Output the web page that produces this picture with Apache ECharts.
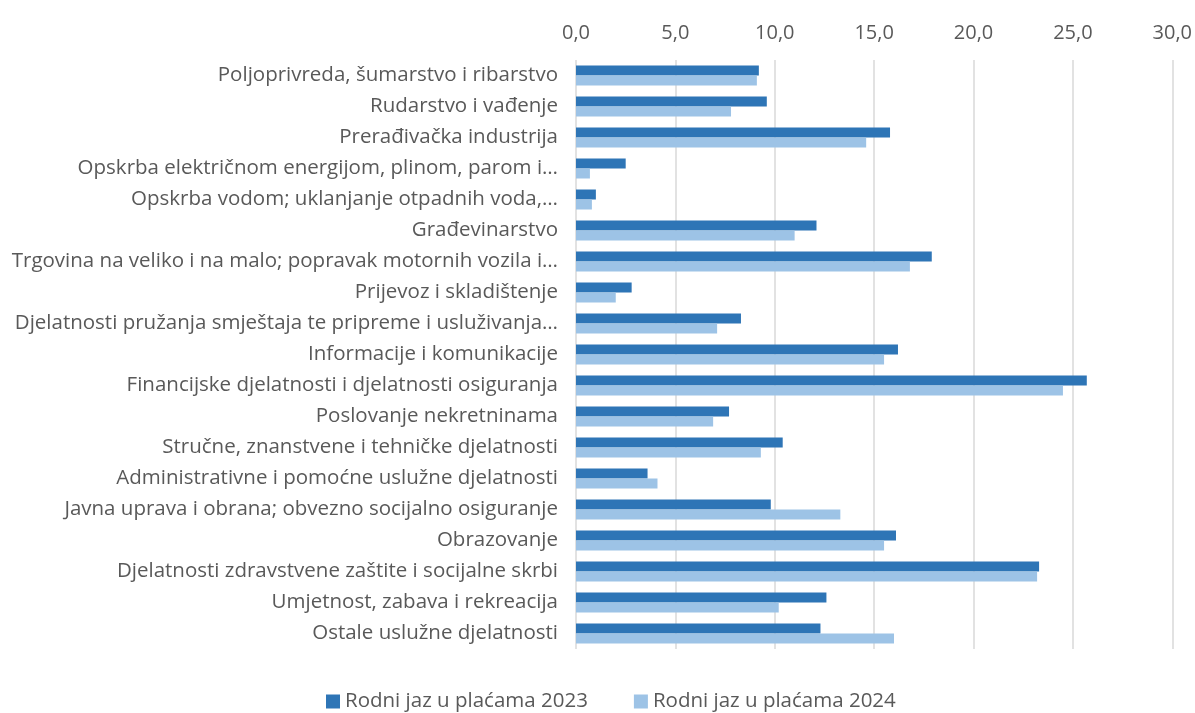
<!DOCTYPE html>
<html>
<head>
<meta charset="utf-8">
<script src="https://cdn.jsdelivr.net/npm/echarts@6/dist/echarts.min.js"></script>
<style>
    html, body { margin: 0; padding: 0; background: #fff; }
    #chart { width: 1195px; height: 713px; }
</style>
</head>
<body>
<div id="chart"></div>
<script>
    // kategorije (djelatnosti)
    var categories = [
        'Poljoprivreda, šumarstvo i ribarstvo',
        'Rudarstvo i vađenje',
        'Prerađivačka industrija',
        'Opskrba električnom energijom, plinom, parom i…',
        'Opskrba vodom; uklanjanje otpadnih voda,…',
        'Građevinarstvo',
        'Trgovina na veliko i na malo; popravak motornih vozila i…',
        'Prijevoz i skladištenje',
        'Djelatnosti pružanja smještaja te pripreme i usluživanja…',
        'Informacije i komunikacije',
        'Financijske djelatnosti i djelatnosti osiguranja',
        'Poslovanje nekretninama',
        'Stručne, znanstvene i tehničke djelatnosti',
        'Administrativne i pomoćne uslužne djelatnosti',
        'Javna uprava i obrana; obvezno socijalno osiguranje',
        'Obrazovanje',
        'Djelatnosti zdravstvene zaštite i socijalne skrbi',
        'Umjetnost, zabava i rekreacija',
        'Ostale uslužne djelatnosti'
    ];
    var values2023 = [9.2, 9.6, 15.8, 2.5, 1.0, 12.1, 17.9, 2.8, 8.3, 16.2, 25.7, 7.7, 10.4, 3.6, 9.8, 16.1, 23.3, 12.6, 12.3];
    var values2024 = [9.1, 7.8, 14.6, 0.7, 0.8, 11.0, 16.8, 2.0, 7.1, 15.5, 24.5, 6.9, 9.3, 4.1, 13.3, 15.5, 23.2, 10.2, 16.0];
    var seriesNames = ['Rodni jaz u plaćama 2023', 'Rodni jaz u plaćama 2024'];

    var font = 'Open Sans';
    var myChart = echarts.init(document.getElementById('chart'));
    var option = {
        animation: false,
        color: ['#2E75B6', '#9DC3E6'],
        grid: {
            left: 576,
            right: 22,
            top: 60,
            bottom: 64
        },
        legend: {
            top: 686,
            left: 321,
            itemWidth: 14,
            itemHeight: 14,
            itemGap: 46,
            icon: 'rect',
            textStyle: {
                color: '#595959',
                fontSize: 20.5,
                fontFamily: font
            },
            data: seriesNames
        },
        xAxis: {
            type: 'value',
            position: 'top',
            min: 0,
            max: 30,
            interval: 5,
            axisLine: { show: false },
            axisTick: { show: false },
            splitLine: {
                lineStyle: { color: '#d9d9d9', width: 1.5 }
            },
            axisLabel: {
                color: '#595959',
                fontSize: 20,
                fontFamily: font,
                margin: 17,
                formatter: function (v) {
                    return v.toFixed(1).replace('.', ',');
                }
            }
        },
        yAxis: {
            type: 'category',
            inverse: true,
            data: categories,
            axisLine: { show: false },
            axisTick: { show: false },
            axisLabel: {
                color: '#595959',
                fontSize: 20.5,
                fontFamily: font,
                margin: 18
            }
        },
        series: [
            {
                name: seriesNames[0],
                type: 'bar',
                barWidth: 10,
                barGap: '0%',
                data: values2023
            },
            {
                name: seriesNames[1],
                type: 'bar',
                barWidth: 10,
                barGap: '0%',
                data: values2024
            }
        ]
    };
    myChart.setOption(option);
</script>
</body>
</html>
